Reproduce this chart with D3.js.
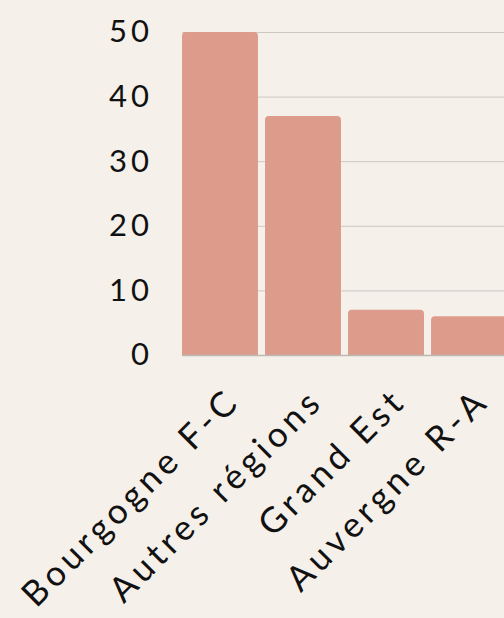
<!DOCTYPE html>
<html lang="fr">
<head>
  <meta charset="UTF-8">
  <title>Régions</title>
  <style>
    body {
      margin: 0;
      background: #f5f0ea;
      font-family: Lato, "Noto Sans", sans-serif;
    }
    svg { display: block; }
    .grid line { stroke: #cdc8c2; stroke-width: 1px; }
    .tick text { fill: #111; }
  </style>
</head>
<body>
  <svg></svg>
  <script src="https://d3js.org/d3.v7.min.js"></script>
  <script>
    const regions = ["Bourgogne F-C", "Autres régions", "Grand Est", "Auvergne R-A"];
    const counts = [50, 37, 7, 6];
    const yTicks = [0, 10, 20, 30, 40, 50];

    const W = 504, H = 618;
    const margin = { top: 32, right: -3, bottom: 263, left: 182 };

    const svg = d3.select("svg").attr("width", W).attr("height", H);

    const x = d3.scaleBand()
      .domain(regions)
      .range([margin.left, W - margin.right])
      .paddingInner(0.085)
      .paddingOuter(0);

    const y = d3.scaleLinear()
      .domain([0, 50])
      .range([H - margin.bottom, margin.top]);

    // grid
    svg.append("g")
      .attr("class", "grid")
      .selectAll("line")
      .data(yTicks.slice(1))
      .join("line")
      .attr("x1", margin.left)
      .attr("x2", W)
      .attr("y1", d => y(d) + 0.5)
      .attr("y2", d => y(d) + 0.5);

    // bars with rounded top corners
    const r = 4;
    svg.append("g")
      .selectAll("path")
      .data(regions)
      .join("path")
      .attr("fill", "#dd9b8c")
      .attr("d", (d, i) => {
        const x0 = x(d), x1 = x(d) + x.bandwidth();
        const yt = y(counts[i]), yb = y(0);
        return `M${x0},${yb}V${yt + r}Q${x0},${yt} ${x0 + r},${yt}H${x1 - r}Q${x1},${yt} ${x1},${yt + r}V${yb}Z`;
      });

    // baseline
    svg.append("line")
      .attr("x1", margin.left)
      .attr("x2", W)
      .attr("y1", y(0) + 0.5)
      .attr("y2", y(0) + 0.5)
      .attr("stroke", "#bdb8b2")
      .attr("stroke-width", 1.5);

    // y axis
    const yAxis = svg.append("g")
      .attr("transform", `translate(${margin.left},0)`)
      .call(d3.axisLeft(y).tickValues(yTicks).tickSize(0).tickPadding(29));
    yAxis.select(".domain").remove();
    yAxis.selectAll("text")
      .style("font-size", "31px")
      .style("letter-spacing", "4px")
      .style("font-family", "Lato, 'Noto Sans', sans-serif");

    // x labels
    svg.append("g")
      .selectAll("text")
      .data(regions)
      .join("text")
      .attr("text-anchor", "end")
      .attr("transform", d => `translate(${x(d) + x.bandwidth() / 2 + 22},${y(0) + 48}) rotate(-45)`)
      .attr("font-size", 35)
      .attr("letter-spacing", 4.5)
      .attr("fill", "#111")
      .text(d => d);
  </script>
</body>
</html>
